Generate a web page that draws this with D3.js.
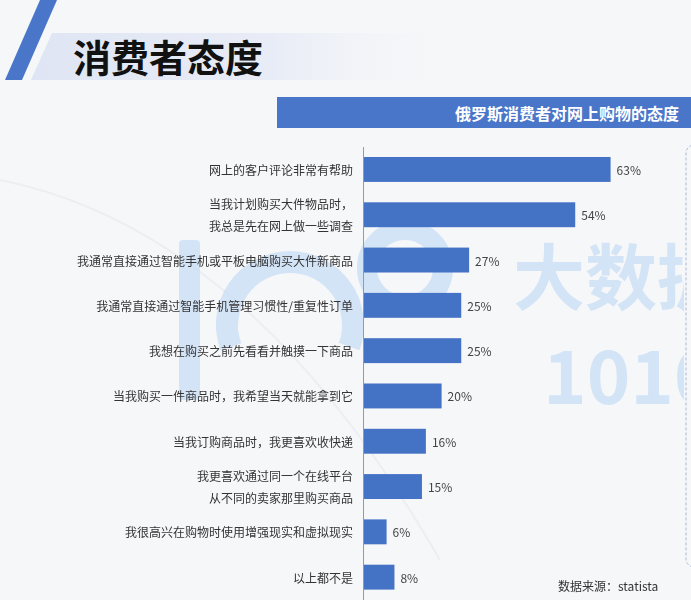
<!DOCTYPE html>
<html>
<head>
<meta charset="utf-8">
<script src="https://cdn.jsdelivr.net/npm/d3@7"></script>
<style>
  html, body { margin: 0; padding: 0; background: #f6f7f9; }
  svg { display: block; }
  text { font-family: "Noto Sans CJK SC", "Noto Sans", sans-serif; }
</style>
</head>
<body>
<script>
// ---- data ----
const pageTitle = "消费者态度";
const chartTitle = "俄罗斯消费者对网上购物的态度";
const categories = [
  ["网上的客户评论非常有帮助"],
  ["当我计划购买大件物品时，", "我总是先在网上做一些调查"],
  ["我通常直接通过智能手机或平板电脑购买大件新商品"],
  ["我通常直接通过智能手机管理习惯性/重复性订单"],
  ["我想在购买之前先看看并触摸一下商品"],
  ["当我购买一件商品时，我希望当天就能拿到它"],
  ["当我订购商品时，我更喜欢收快递"],
  ["我更喜欢通过同一个在线平台", "从不同的卖家那里购买商品"],
  ["我很高兴在购物时使用增强现实和虚拟现实"],
  ["以上都不是"]
];
const values = [63, 54, 27, 25, 25, 20, 16, 15, 6, 8];
const sourceText = "数据来源：statista";
const watermarkLines = ["大数据", "1010"];

// ---- layout ----
const W = 691, H = 600;
const svg = d3.select("body").append("svg").attr("width", W).attr("height", H);

const defs = svg.append("defs");
const grad = defs.append("linearGradient").attr("id", "band").attr("x1", 0).attr("x2", 1).attr("y1", 0).attr("y2", 0);
grad.append("stop").attr("offset", "0%").attr("stop-color", "#dfe5f4");
grad.append("stop").attr("offset", "55%").attr("stop-color", "#e8ecf6");
grad.append("stop").attr("offset", "100%").attr("stop-color", "#f6f7f9").attr("stop-opacity", 0);
defs.append("clipPath").attr("id", "wmclip").append("rect").attr("x", 0).attr("y", 0).attr("width", 684).attr("height", H);

// background
svg.append("rect").attr("width", W).attr("height", H).attr("fill", "#f6f7f9");
svg.append("path").attr("d", "M0,180 Q250,230 440,560").attr("fill", "none").attr("stroke", "#eceef2").attr("stroke-width", 2);

// header decoration
svg.append("polygon").attr("points", "52,33 470,33 470,80 31,80").attr("fill", "url(#band)");
svg.append("polygon").attr("points", "40,0 57,0 22,80 5,80").attr("fill", "#4a76c9");
svg.append("text").attr("x", 73).attr("y", 55).attr("dominant-baseline", "central")
  .attr("font-size", 38).attr("font-weight", 700).attr("fill", "#111").text(pageTitle);

// chart title bar
svg.append("rect").attr("x", 277).attr("y", 97).attr("width", W - 277).attr("height", 31).attr("fill", "#4a76c9");
svg.append("text").attr("x", 679).attr("y", 112.5).attr("dominant-baseline", "central").attr("text-anchor", "end")
  .attr("font-size", 16).attr("font-weight", 700).attr("fill", "#fff").text(chartTitle);

// watermark
const wm = svg.append("g").attr("clip-path", "url(#wmclip)").attr("opacity", 0.75);
const wmColor = "#c9def6";
wm.append("rect").attr("x", 179).attr("y", 240).attr("width", 21).attr("height", 160).attr("rx", 4).attr("fill", wmColor);
wm.append("path")
  .attr("d", d3.arc().innerRadius(52).outerRadius(74).startAngle(0.35).endAngle(-3.5)({}))
  .attr("transform", "translate(290,325) rotate(90)").attr("fill", wmColor);
wm.append("circle").attr("cx", 405).attr("cy", 268).attr("r", 38).attr("fill", "none")
  .attr("stroke", wmColor).attr("stroke-width", 20);
wm.append("text").attr("x", 513).attr("y", 272).attr("dominant-baseline", "central")
  .attr("font-size", 72).attr("font-weight", 700).attr("fill", wmColor).text(watermarkLines[0]);
wm.append("text").attr("x", 543).attr("y", 371).attr("dominant-baseline", "central")
  .attr("font-size", 74).attr("font-weight", 700).attr("fill", wmColor).text(watermarkLines[1]);

// dashed box at right
svg.append("rect").attr("x", 686).attr("y", 145).attr("width", 30).attr("height", 422).attr("rx", 8)
  .attr("fill", "none").attr("stroke", "#a9b9d6").attr("stroke-dasharray", "3,2").attr("stroke-width", 1);

// scales
const x = d3.scaleLinear().domain([0, 100]).range([363, 756]);
const y = d3.scaleBand().domain(d3.range(categories.length)).range([146.8, 599.8])
  .paddingInner(0.45).paddingOuter(0.225);

// bars
svg.append("g").selectAll("rect").data(values).join("rect")
  .attr("x", x(0)).attr("y", (d, i) => y(i))
  .attr("width", d => x(d) - x(0)).attr("height", y.bandwidth())
  .attr("fill", "#4472c4");

// value labels
svg.append("g").selectAll("text").data(values).join("text")
  .attr("x", d => x(d) + 6).attr("y", (d, i) => y(i) + y.bandwidth() / 2)
  .attr("dominant-baseline", "central").attr("font-size", 12).attr("fill", "#444")
  .text(d => d + "%");

// category labels
const lab = svg.append("g").selectAll("text").data(categories).join("text")
  .attr("text-anchor", "end").attr("font-size", 12).attr("fill", "#333")
  .attr("y", (d, i) => y(i) + y.bandwidth() / 2);
lab.each(function(d) {
  const t = d3.select(this);
  d.forEach((line, k) => {
    t.append("tspan").attr("x", 353)
      .attr("dy", k === 0 ? (-(d.length - 1) * 11) + "px" : "22px")
      .attr("dominant-baseline", "central").text(line);
  });
});

// axis line
svg.append("line").attr("x1", 363.5).attr("x2", 363.5).attr("y1", 147).attr("y2", 600)
  .attr("stroke", "#9a9a9a").attr("stroke-width", 1);

// source
svg.append("text").attr("x", 558).attr("y", 585).attr("dominant-baseline", "central")
  .attr("font-size", 12).attr("fill", "#333").text(sourceText);
</script>
</body>
</html>
